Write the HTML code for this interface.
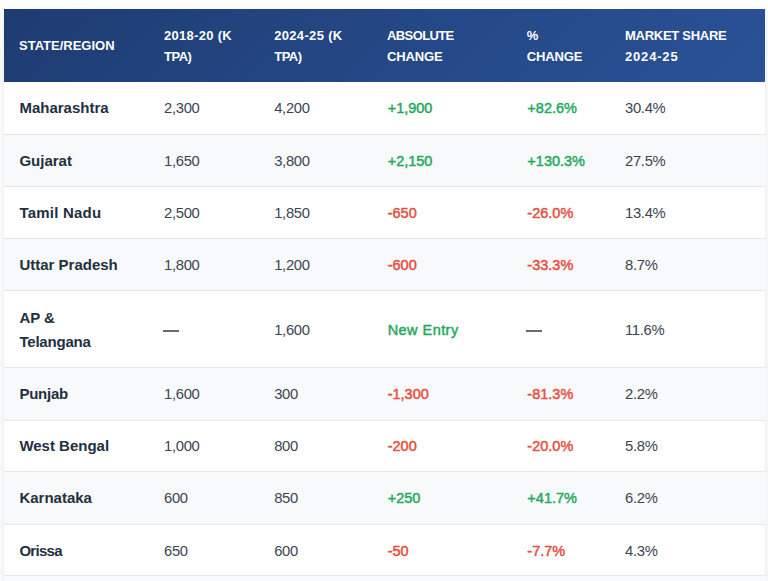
<!DOCTYPE html>
<html>
<head>
<meta charset="utf-8">
<style>
html,body{margin:0;padding:0;background:#ffffff;}
body{width:768px;height:581px;overflow:hidden;position:relative;font-family:"Liberation Sans",sans-serif;}
.wrap{position:absolute;left:4px;top:9px;width:761px;box-shadow:0 4px 10px rgba(0,0,0,0.1);background:#fff;}
table{border-collapse:separate;border-spacing:0;width:761px;table-layout:fixed;}
thead tr{background:linear-gradient(135deg,#1e3c72 0%,#2a5298 100%);}
th{height:73px;box-sizing:border-box;padding:0 15px;color:#fff;font-weight:bold;font-size:13px;text-transform:uppercase;text-align:left;line-height:21px;vertical-align:middle;}
td{box-sizing:content-box;padding:1px 15px 0;font-size:14.8px;letter-spacing:-0.3px;line-height:24px;color:#3b4552;border-bottom:1px solid #e5e7ea;vertical-align:middle;background:#fff;}
tr.even td{background:#f8f9fb;}
td.s{letter-spacing:0;padding-top:1px;padding-left:15.4px;font-weight:bold;font-size:15px;color:#22303f;}
td.p{letter-spacing:0;padding-left:15.7px;padding-top:1px;color:#24a85c;font-weight:normal;-webkit-text-stroke:0.45px #24a85c;font-size:14.5px;}
td.n{letter-spacing:0;padding-left:15.7px;padding-top:1px;color:#e74c3c;font-weight:normal;-webkit-text-stroke:0.45px #e74c3c;font-size:14.5px;}

th.t2{padding-bottom:0;}
td.ne{letter-spacing:0.45px;}
tr.up td:not(.s):not(.p):not(.n){padding-top:0;}
tr.dn td.p,tr.dn td.n{padding-top:2px;}
tr.up td.p,tr.up td.n{padding-top:0;}
tr.up td.s{padding-top:0;}
.dash{display:block;width:16px;height:2px;background:#676c73;margin-left:-1px;margin-top:2px;}

</style>
</head>
<body>
<div class="wrap">
<table>
<colgroup><col style="width:145px"><col style="width:110.2px"><col style="width:112.8px"><col style="width:139.7px"><col style="width:98.3px"><col style="width:155px"></colgroup>
<thead><tr><th class="h0">State/Region</th><th class="t2"><span style="letter-spacing:0.3px">2018-20 (K</span><br><span style="letter-spacing:-0.5px">TPA)</span></th><th class="t2"><span style="letter-spacing:0.33px">2024-25 (K</span><br><span style="letter-spacing:-0.5px">TPA)</span></th><th class="t2"><span style="letter-spacing:-0.6px">Absolute</span><br><span style="letter-spacing:-0.12px">Change</span></th><th class="t2">%<br><span style="letter-spacing:-0.12px">Change</span></th><th class="t2"><span style="letter-spacing:-0.27px">Market Share</span><br><span style="letter-spacing:0.83px">2024-25</span></th></tr></thead>
<tbody>
<tr class="odd up" style="height:53px"><td class="s" style="height:51px">Maharashtra</td><td>2,300</td><td>4,200</td><td class="p">+1,900</td><td class="p">+82.6%</td><td>30.4%</td></tr>
<tr class="even" style="height:52px"><td class="s" style="height:50px">Gujarat</td><td>1,650</td><td>3,800</td><td class="p">+2,150</td><td class="p">+130.3%</td><td>27.5%</td></tr>
<tr class="odd" style="height:52px"><td class="s" style="height:50px"><span style="letter-spacing:0.22px">Tamil Nadu</span></td><td>2,500</td><td>1,850</td><td class="n">-650</td><td class="n">-26.0%</td><td>13.4%</td></tr>
<tr class="even" style="height:52px"><td class="s" style="height:50px">Uttar Pradesh</td><td>1,800</td><td>1,200</td><td class="n">-600</td><td class="n">-33.3%</td><td>8.7%</td></tr>
<tr class="odd dn" style="height:77px"><td class="s" style="height:75px">AP &amp;<br><span style="letter-spacing:-0.2px">Telangana</span></td><td><i class="dash"></i></td><td>1,600</td><td class="p ne">New Entry</td><td class="d"><i class="dash"></i></td><td>11.6%</td></tr>
<tr class="even up" style="height:53px"><td class="s" style="height:51px"><span style="letter-spacing:-0.24px">Punjab</span></td><td>1,600</td><td>300</td><td class="n">-1,300</td><td class="n">-81.3%</td><td>2.2%</td></tr>
<tr class="odd up" style="height:51px"><td class="s" style="height:49px">West Bengal</td><td>1,000</td><td>800</td><td class="n">-200</td><td class="n">-20.0%</td><td>5.8%</td></tr>
<tr class="even up" style="height:53px"><td class="s" style="height:51px">Karnataka</td><td>600</td><td>850</td><td class="p">+250</td><td class="p">+41.7%</td><td>6.2%</td></tr>
<tr class="odd dn" style="height:51px"><td class="s" style="height:49px"><span style="letter-spacing:-0.7px">Orissa</span></td><td>650</td><td>600</td><td class="n">-50</td><td class="n">-7.7%</td><td>4.3%</td></tr>
<tr class="even" style="height:52px"><td class="s" style="height:50px">Rajasthan</td><td>500</td><td>400</td><td class="n">-100</td><td class="n">-20.0%</td><td>2.9%</td></tr>
</tbody>
</table>
</div>
</body>
</html>
